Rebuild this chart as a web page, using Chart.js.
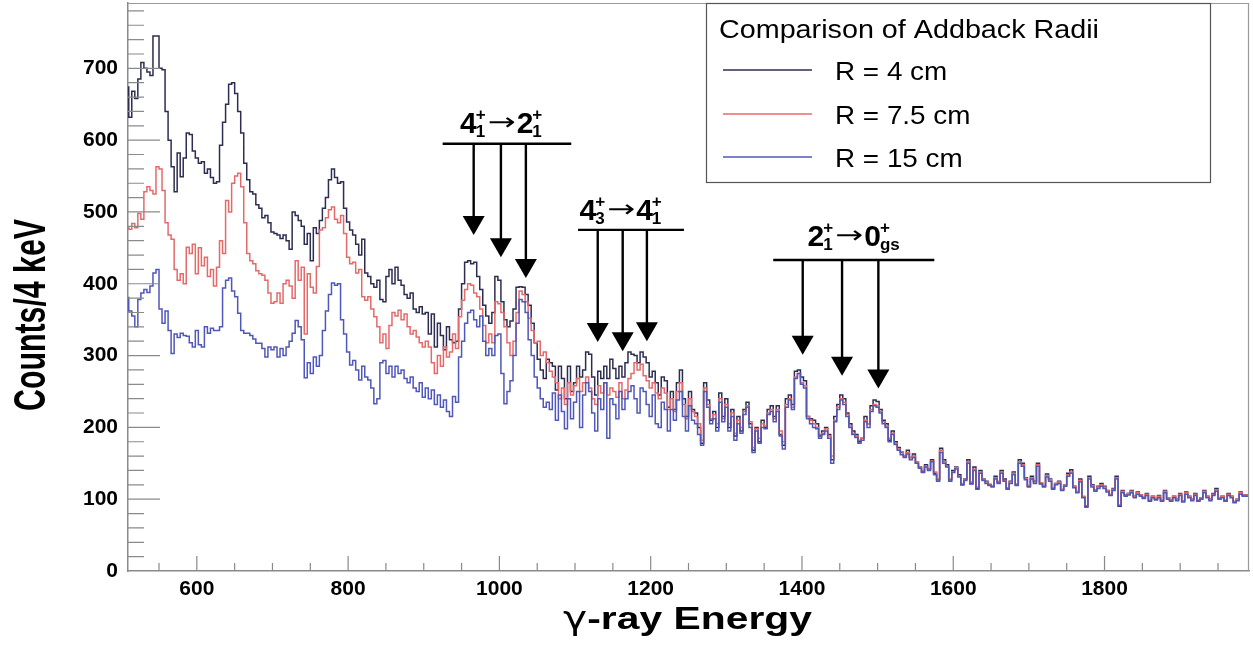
<!DOCTYPE html>
<html>
<head>
<meta charset="utf-8">
<script src="https://cdn.jsdelivr.net/npm/chart.js@4/dist/chart.umd.min.js"></script>
<style>
html,body{margin:0;padding:0;background:#fff;}
#wrap{width:1253px;height:646px;position:relative;background:#fff;}
canvas{display:block;}
</style>
</head>
<body>
<div id="wrap"><canvas id="c" width="1253" height="646"></canvas></div>
<script>
// ---------------- DATA ----------------
const binStart = 510;   // keV, low edge of first bin
const binWidth = 4;     // keV per bin

const seriesLabels = ['R = 4 cm', 'R = 7.5 cm', 'R = 15 cm'];
const legendTitle = 'Comparison of Addback Radii';
const xTitleGreek = '\u03B3';
const xTitleRest = '-ray Energy';
const yTitle = 'Counts/4 keV';
const xTickValues = [600, 800, 1000, 1200, 1400, 1600, 1800];
const yTickValues = [0, 100, 200, 300, 400, 500, 600, 700];

const countsR4 = [
 675, 632, 668, 658, 685, 708, 700, 695, 690, 745,
 745, 700, 698, 640, 600, 563, 528, 582, 549, 575,
 610, 608, 585, 575, 568, 570, 554, 560, 548, 540,
 542, 593, 625, 650, 678, 680, 665, 640, 610, 568,
 545, 528, 525, 510, 505, 492, 495, 485, 472, 470,
 468, 463, 468, 460, 448, 500, 495, 488, 480, 455,
 470, 432, 478, 470, 488, 505, 520, 545, 560, 548,
 540, 542, 505, 486, 475, 468, 455, 440, 462, 415,
 410, 400, 395, 405, 378, 375, 410, 420, 400, 423,
 405, 398, 385, 380, 387, 365, 360, 368, 358, 360,
 330, 358, 312, 345, 328, 308, 340, 322, 318, 320,
 365, 400, 430, 432, 428, 430, 410, 392, 370, 355,
 345, 360, 410, 405, 375, 350, 340, 348, 365, 395,
 396, 395, 385, 370, 345, 318, 295, 280, 268, 295,
 290, 285, 252, 285, 268, 240, 285, 250, 262, 285,
 270, 280, 305, 302, 270, 245, 278, 268, 285, 268,
 295, 282, 268, 285, 270, 290, 305, 302, 300, 290,
 305, 298, 290, 270, 278, 262, 245, 270, 265, 228,
 250, 225, 262, 280, 240, 215, 250, 225, 220, 200,
 178, 262, 238, 210, 222, 200, 248, 215, 240, 200,
 225, 188, 215, 195, 225, 235, 205, 168, 200, 180,
 210, 200, 225, 230, 215, 230, 190, 175, 240, 245,
 232, 278, 280, 270, 265, 215, 212, 210, 205, 188,
 195, 200, 190, 155, 215, 232, 245, 240, 220, 205,
 195, 190, 180, 185, 215, 205, 230, 238, 236, 225,
 210, 205, 182, 195, 180, 172, 165, 160, 168, 158,
 163, 150, 145, 138, 148, 142, 155, 136, 127, 171,
 155, 148, 127, 140, 145, 134, 120, 128, 155, 122,
 145, 115, 140, 128, 125, 120, 118, 132, 124, 140,
 128, 115, 125, 138, 120, 155, 150, 130, 118, 132,
 125, 150, 122, 118, 135, 128, 115, 122, 125, 113,
 120, 136, 141, 118, 110, 128, 103, 89, 132, 120,
 113, 118, 122, 118, 112, 106, 115, 132, 90, 112,
 106, 108, 112, 104, 110, 106, 102, 108, 98, 104,
 100, 105, 98, 112, 102, 98, 104, 100, 108, 98,
 110, 104, 100, 108, 98, 102, 112, 104, 100, 108,
 115, 102, 104, 98, 108, 104, 96, 100, 110, 106
];

const countsR75 = [
 480, 476, 484, 478, 498, 490, 528, 535, 530, 525,
 563, 560, 530, 485, 468, 462, 420, 405, 414, 400,
 451, 442, 455, 414, 450, 425, 437, 410, 420, 397,
 423, 460, 442, 516, 500, 540, 550, 554, 535, 485,
 442, 432, 428, 418, 414, 412, 405, 387, 373, 375,
 387, 373, 400, 405, 397, 380, 432, 405, 423, 330,
 414, 395, 387, 424, 475, 478, 492, 503, 507, 490,
 485, 495, 470, 437, 428, 430, 415, 420, 382, 377,
 382, 365, 354, 340, 318, 330, 310, 342, 360, 355,
 363, 350, 358, 340, 330, 335, 326, 318, 312, 320,
 312, 290, 275, 300, 285, 312, 298, 305, 330, 310,
 354, 377, 392, 400, 398, 387, 382, 365, 342, 318,
 330, 318, 375, 372, 360, 340, 318, 300, 320, 360,
 390, 385, 375, 352, 335, 318, 320, 300, 305, 290,
 278, 270, 262, 240, 255, 232, 262, 245, 258, 268,
 250, 262, 270, 255, 240, 232, 258, 248, 262, 245,
 255, 250, 242, 262, 240, 252, 268, 275, 290, 280,
 288, 272, 265, 255, 262, 248, 240, 255, 248, 225,
 240, 222, 250, 262, 232, 212, 240, 222, 215, 205,
 182, 255, 232, 212, 218, 205, 240, 212, 232, 205,
 220, 192, 210, 200, 222, 230, 208, 172, 198, 185,
 205, 202, 220, 225, 212, 225, 195, 180, 232, 240,
 228, 270, 275, 262, 258, 215, 210, 205, 200, 190,
 192, 198, 188, 160, 210, 228, 240, 235, 218, 202,
 192, 188, 182, 185, 210, 205, 225, 232, 230, 222,
 208, 202, 185, 192, 178, 170, 166, 160, 165, 158,
 160, 152, 145, 140, 146, 142, 153, 138, 128, 168,
 152, 146, 128, 138, 144, 132, 122, 128, 152, 124,
 142, 117, 138, 128, 124, 121, 118, 130, 125, 138,
 126, 116, 124, 136, 121, 152, 148, 129, 119, 130,
 124, 148, 123, 119, 133, 127, 116, 122, 124, 114,
 120, 134, 138, 118, 111, 126, 104, 91, 130, 119,
 113, 117, 120, 117, 112, 107, 114, 130, 92, 111,
 106, 108, 111, 104, 109, 106, 103, 107, 99, 104,
 101, 104, 99, 111, 102, 99, 104, 100, 107, 98,
 109, 104, 100, 107, 99, 102, 111, 104, 100, 107,
 113, 102, 104, 99, 107, 104, 97, 100, 109, 106
];

const countsR15 = [
 382, 362, 355, 340, 378, 387, 392, 388, 397, 415,
 420, 365, 345, 362, 335, 303, 330, 325, 331, 328,
 327, 318, 312, 335, 315, 312, 340, 331, 338, 335,
 335, 340, 394, 405, 408, 390, 382, 359, 335, 331,
 331, 328, 323, 317, 317, 310, 298, 312, 308, 312,
 298, 310, 300, 312, 320, 331, 349, 340, 322, 269,
 290, 275, 298, 285, 300, 335, 362, 385, 401, 398,
 400, 350, 330, 305, 287, 293, 280, 266, 285, 270,
 266, 255, 233, 240, 290, 293, 275, 285, 270, 285,
 275, 280, 268, 262, 270, 255, 250, 262, 242, 255,
 240, 252, 232, 245, 228, 238, 222, 215, 243, 235,
 298, 320, 345, 360, 363, 350, 340, 355, 320, 300,
 310, 300, 328, 330, 275, 233, 250, 265, 300, 345,
 378, 375, 360, 322, 300, 270, 255, 240, 228, 235,
 225, 248, 210, 245, 222, 198, 240, 212, 235, 250,
 200, 245, 262, 250, 220, 195, 240, 225, 262, 185,
 240, 232, 212, 250, 225, 240, 250, 258, 240, 220,
 255, 250, 232, 215, 245, 205, 200, 235, 225, 195,
 225, 210, 238, 250, 215, 195, 230, 210, 205, 190,
 175, 250, 228, 205, 212, 195, 235, 208, 228, 195,
 215, 182, 205, 192, 218, 228, 200, 165, 195, 178,
 200, 198, 218, 222, 208, 222, 188, 170, 228, 238,
 225, 268, 275, 260, 255, 212, 205, 200, 198, 185,
 190, 195, 185, 150, 208, 225, 238, 232, 215, 200,
 190, 186, 178, 182, 208, 200, 222, 230, 228, 220,
 205, 200, 180, 190, 176, 168, 162, 158, 163, 155,
 158, 150, 143, 137, 145, 140, 152, 134, 125, 165,
 150, 145, 125, 137, 142, 131, 120, 126, 150, 121,
 140, 114, 136, 126, 122, 119, 117, 128, 122, 136,
 125, 114, 122, 134, 119, 150, 146, 127, 117, 128,
 122, 146, 121, 117, 131, 125, 114, 120, 122, 112,
 118, 132, 136, 116, 109, 124, 102, 90, 128, 117,
 111, 115, 118, 115, 110, 105, 112, 128, 91, 109,
 104, 106, 109, 102, 107, 104, 101, 105, 97, 102,
 99, 102, 97, 109, 100, 97, 102, 98, 105, 96,
 107, 102, 98, 105, 97, 100, 109, 102, 98, 105,
 111, 100, 102, 97, 105, 102, 95, 98, 107, 104
];

// transition annotations (energies in keV, heights in counts)
const transitions = [
  { parts: [{t:'4', sub:'1', sup:'+'}, {t:'2', sub:'1', sup:'+'}],
    labelE: 1003, labelC: 610, barE: [925, 1095], barC: 595,
    arrowE: [966, 1002, 1035], tipC: [468, 437, 408] },
  { parts: [{t:'4', sub:'3', sup:'+'}, {t:'4', sub:'1', sup:'+'}],
    labelE: 1161, labelC: 489, barE: [1104, 1244], barC: 475,
    arrowE: [1130, 1163, 1195], tipC: [319, 306, 320] },
  { parts: [{t:'2', sub:'1', sup:'+'}, {t:'0', sub:'gs', sup:'+'}],
    labelE: 1469, labelC: 453, barE: [1362, 1575], barC: 433,
    arrowE: [1401, 1453, 1501], tipC: [301, 272, 254] }
];

// ---------------- STYLE ----------------
const seriesColors = ['#2d2d52', '#e46a6a', '#4f57b8'];
const axisColor = '#8a8a8a';
const FONT = '"Liberation Sans", Arial, Helvetica, sans-serif';

function toSteps(arr) {
  const pts = arr.map((v, i) => ({ x: binStart + i * binWidth, y: v }));
  pts.push({ x: binStart + arr.length * binWidth, y: arr[arr.length - 1] });
  return pts;
}

function mkDataset(label, arr, color, order) {
  return { label, data: toSteps(arr), borderColor: color, backgroundColor: color,
    borderWidth: 1.5, pointRadius: 0, stepped: 'after', fill: false, order };
}

function drawStretched(ctx, text, x, y, font, scaleX, align) {
  ctx.save();
  ctx.font = font;
  const w = ctx.measureText(text).width * scaleX;
  let left = x;
  if (align === 'center') left = x - w / 2;
  ctx.translate(left, y);
  ctx.scale(scaleX, 1);
  ctx.textAlign = 'left';
  ctx.fillText(text, 0, 0);
  ctx.restore();
}

function drawLevelLabel(ctx, cx, base, parts) {
  const mainFont = 'bold 30px ' + FONT;
  const smallFont = 'bold 17px ' + FONT;
  const arrowFont = '24px "DejaVu Sans", sans-serif';
  const arrowW = 28;
  const m = parts.map(p => {
    ctx.font = mainFont; const w = ctx.measureText(p.t).width;
    ctx.font = smallFont;
    const ws = Math.max(ctx.measureText(p.sub).width, ctx.measureText(p.sup).width);
    return { w, ws };
  });
  const total = m[0].w + m[0].ws + 2 + arrowW + 2 + m[1].w + m[1].ws - 2;
  let x = cx - total / 2;
  ctx.fillStyle = '#000';
  ctx.textAlign = 'left';
  ctx.textBaseline = 'alphabetic';
  const piece = (p, mm) => {
    ctx.font = mainFont; ctx.fillText(p.t, x, base); x += mm.w - 1;
    ctx.font = smallFont;
    ctx.fillText(p.sup, x, base - 13);
    ctx.fillText(p.sub, x, base + 4);
    x += mm.ws + 1;
  };
  piece(parts[0], m[0]);
  ctx.font = arrowFont;
  const aw = ctx.measureText('\u2192').width;
  ctx.save();
  ctx.translate(x + 1, base - 3);
  ctx.scale(arrowW / aw, 1);
  ctx.fillText('\u2192', 0, 0);
  ctx.restore();
  x += arrowW + 2;
  piece(parts[1], m[1]);
}

const rootStyle = {
  id: 'rootStyle',
  afterDatasetsDraw(chart) {
    const { ctx, chartArea: a, scales: { x, y } } = chart;
    ctx.save();
    // inner tick marks
    ctx.strokeStyle = axisColor;
    ctx.lineWidth = 1.2;
    ctx.beginPath();
    for (let v = 550; v < x.max; v += 50) {
      const px = x.getPixelForValue(v);
      const len = (v % 200 === 0) ? 15 : 8;
      ctx.moveTo(px, a.bottom); ctx.lineTo(px, a.bottom - len);
    }
    for (let v = 20; v < y.max; v += 20) {
      const py = y.getPixelForValue(v);
      const len = (v % 100 === 0) ? 32 : 16;
      ctx.moveTo(a.left, py); ctx.lineTo(a.left + len, py);
    }
    ctx.stroke();
    // frame (top & right)
    ctx.strokeStyle = '#9a9a9a';
    ctx.lineWidth = 1.2;
    ctx.beginPath();
    ctx.moveTo(a.left, a.top + 0.5); ctx.lineTo(a.right, a.top + 0.5);
    ctx.moveTo(a.right - 0.5, a.top); ctx.lineTo(a.right - 0.5, a.bottom);
    ctx.stroke();

    // transition arrows
    ctx.strokeStyle = '#000';
    ctx.fillStyle = '#000';
    transitions.forEach(tr => {
      const by = y.getPixelForValue(tr.barC);
      ctx.lineWidth = 2.4;
      ctx.beginPath();
      ctx.moveTo(x.getPixelForValue(tr.barE[0]), by);
      ctx.lineTo(x.getPixelForValue(tr.barE[1]), by);
      ctx.stroke();
      tr.arrowE.forEach((e, i) => {
        const px = x.getPixelForValue(e);
        const ty = y.getPixelForValue(tr.tipC[i]);
        ctx.beginPath();
        ctx.moveTo(px, by); ctx.lineTo(px, ty - 16);
        ctx.stroke();
        ctx.beginPath();
        ctx.moveTo(px - 11, ty - 19);
        ctx.lineTo(px + 11, ty - 19);
        ctx.lineTo(px, ty);
        ctx.closePath();
        ctx.fill();
      });
      drawLevelLabel(ctx, x.getPixelForValue(tr.labelE), y.getPixelForValue(tr.labelC), tr.parts);
    });
    ctx.restore();
  },
  afterDraw(chart) {
    const { ctx, chartArea: a } = chart;
    ctx.save();
    ctx.fillStyle = '#000';
    ctx.textBaseline = 'alphabetic';
    // x title: greek gamma (regular) + bold rest, fitted to 249 px
    const gFont = '32px "DejaVu Sans", sans-serif';
    const rFont = 'bold 32px ' + FONT;
    ctx.font = gFont; const gw = ctx.measureText(xTitleGreek).width;
    ctx.font = rFont; const rw = ctx.measureText(xTitleRest).width;
    const xs = 249 / (gw + rw);
    const x0 = (a.left + a.right) / 2 - 1 - 249 / 2;
    drawStretched(ctx, xTitleGreek, x0, 629, gFont, xs, 'left');
    drawStretched(ctx, xTitleRest, x0 + gw * xs, 629, rFont, xs, 'left');
    // y title (rotated)
    const yt = 'bold 30px ' + FONT;
    ctx.font = yt;
    const yw = ctx.measureText(yTitle).width;
    ctx.save();
    ctx.translate(45, 315);
    ctx.rotate(-Math.PI / 2);
    ctx.scale(192 / yw, 1.45);
    ctx.textAlign = 'center';
    ctx.fillText(yTitle, 0, 0);
    ctx.restore();

    // legend box
    const L = 706.5, T = 3.5, R = 1210.5, B = 182.5;
    ctx.fillStyle = '#fff';
    ctx.fillRect(L, T, R - L, B - T);
    ctx.strokeStyle = '#555';
    ctx.lineWidth = 1.2;
    ctx.strokeRect(L, T, R - L, B - T);
    ctx.fillStyle = '#000';
    const lf = '25px ' + FONT;
    ctx.font = lf;
    const hw = ctx.measureText(legendTitle).width;
    const sx = 380 / hw;
    drawStretched(ctx, legendTitle, 719, 38, lf, sx, 'left');
    const rows = [70, 114, 157];
    [0, 1, 2].forEach((di, k) => {
      const ds = chart.data.datasets[di];
      ctx.strokeStyle = ds.borderColor;
      ctx.lineWidth = 1.4;
      ctx.beginPath();
      ctx.moveTo(723, rows[k]); ctx.lineTo(812, rows[k]);
      ctx.stroke();
      ctx.fillStyle = '#000';
      drawStretched(ctx, ds.label, 835, rows[k] + 10, lf, sx * 0.97, 'left');
    });
    ctx.restore();
  }
};

const tickFont = { family: FONT, weight: 'bold', size: 21 };
const noPad = s => { s.paddingTop = 0; s.paddingBottom = 0; s.paddingLeft = 0; s.paddingRight = 0; };

new Chart(document.getElementById('c').getContext('2d'), {
  type: 'line',
  data: {
    datasets: [
      mkDataset(seriesLabels[0], countsR4, seriesColors[0], 2),
      mkDataset(seriesLabels[1], countsR75, seriesColors[1], 1),
      mkDataset(seriesLabels[2], countsR15, seriesColors[2], 0)
    ]
  },
  options: {
    responsive: false,
    animation: false,
    events: [],
    layout: { padding: { top: 3, right: 4, left: 0, bottom: 0 } },
    plugins: { legend: { display: false }, tooltip: { enabled: false }, title: { display: false } },
    scales: {
      x: {
        type: 'linear', min: 509, max: 1991,
        afterBuildTicks: s => { s.ticks = xTickValues.map(v => ({ value: v })); },
        afterFit: s => { s.height = 75; noPad(s); },
        grid: { display: false, drawTicks: false },
        border: { display: true, color: axisColor, width: 1.5 },
        ticks: { font: tickFont, color: '#000', padding: 6, maxRotation: 0, autoSkip: false,
                 callback: v => String(v) }
      },
      y: {
        type: 'linear', min: 0, max: 791,
        afterBuildTicks: s => { s.ticks = yTickValues.map(v => ({ value: v })); },
        afterFit: s => { s.width = 128; noPad(s); },
        grid: { display: false, drawTicks: false },
        border: { display: true, color: axisColor, width: 1.5 },
        ticks: { font: tickFont, color: '#000', padding: 10, autoSkip: false,
                 callback: v => String(v) }
      }
    }
  },
  plugins: [rootStyle]
});
</script>
</body>
</html>
